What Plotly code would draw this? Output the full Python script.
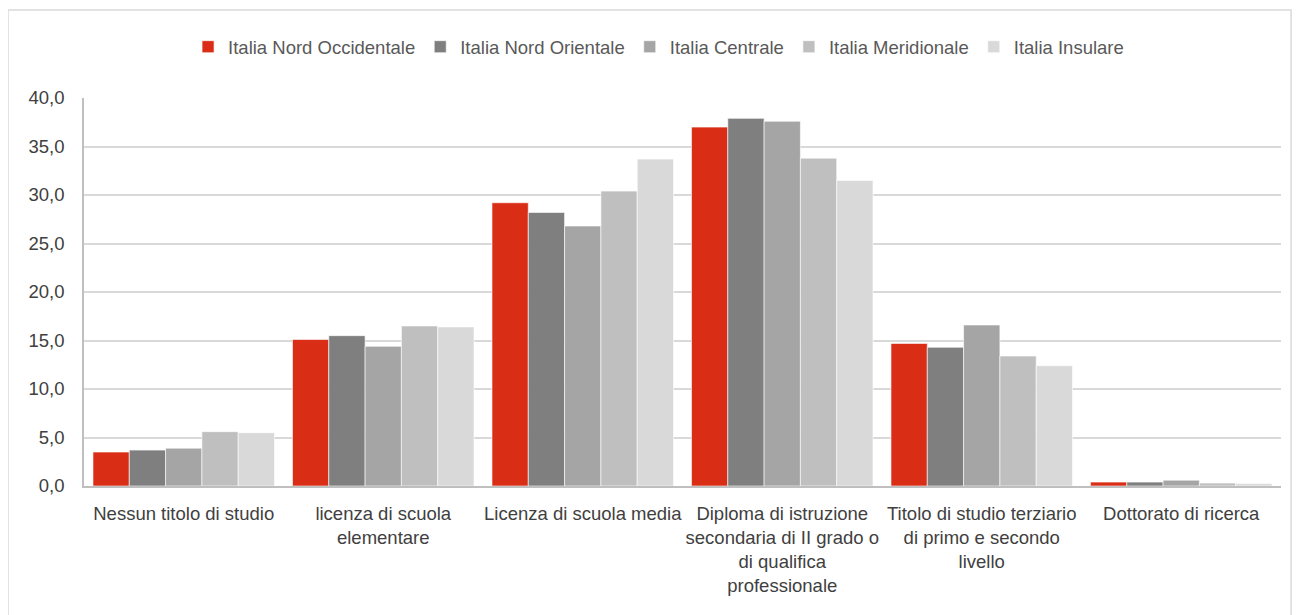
import plotly.graph_objects as go

categories = [
    "Nessun titolo di studio",
    "licenza di scuola<br>elementare",
    "Licenza di scuola media",
    "Diploma di istruzione<br>secondaria di II grado o<br>di qualifica<br>professionale",
    "Titolo di studio terziario<br>di primo e secondo<br>livello",
    "Dottorato di ricerca",
]

nord_occ = [3.5, 15.1, 29.2, 37.0, 14.7, 0.4]
nord_or = [3.7, 15.5, 28.2, 37.9, 14.3, 0.4]
centrale = [3.9, 14.4, 26.8, 37.6, 16.6, 0.6]
meridionale = [5.6, 16.5, 30.4, 33.8, 13.4, 0.3]
insulare = [5.5, 16.4, 33.7, 31.5, 12.4, 0.25]

series = [
    ("Italia Nord Occidentale", nord_occ, "#d92d16"),
    ("Italia Nord Orientale", nord_or, "#7f7f7f"),
    ("Italia Centrale", centrale, "#a5a5a5"),
    ("Italia Meridionale", meridionale, "#bfbfbf"),
    ("Italia Insulare", insulare, "#d9d9d9"),
]

font = "Liberation Sans Narrow, Arial Narrow, Liberation Sans, sans-serif"

fig = go.Figure()
for name, vals, color in series:
    fig.add_trace(go.Bar(
        name=name, x=categories, y=vals,
        marker=dict(color=color, line=dict(color="rgba(255,255,255,0.6)", width=1)),
    ))

fig.update_layout(
    width=1300, height=615,
    margin=dict(l=76, r=27, t=90, b=137),
    paper_bgcolor="white", plot_bgcolor="white",
    barmode="group", bargap=0.09, bargroupgap=0,
    font=dict(family=font, size=18.5, color="#404040"),
    separators=",.",
    legend=dict(
        orientation="h", x=0.48, xanchor="center", y=1.131, yanchor="middle",
        font=dict(size=18.5, color="#595959"), itemwidth=30, traceorder="normal",
    ),
    shapes=[dict(
        type="rect", xref="paper", yref="paper",
        x0=-0.0635, x1=1.0084, y0=-0.335, y1=1.2268,
        line=dict(color="#d9d9d9", width=1.5), layer="below",
    )],
)

fig.update_yaxes(
    range=[0, 40], dtick=5, tickformat=".1f",
    showgrid=True, gridcolor="#d9d9d9", gridwidth=1.5,
    showline=True, linecolor="#bfbfbf", linewidth=1.5,
    ticks="", tickfont=dict(size=18.5), zeroline=False,
    ticklabelstandoff=14,
)
fig.update_xaxes(
    showline=True, linecolor="#bfbfbf", linewidth=1.5,
    ticks="", tickfont=dict(size=18.5), mirror=False,
    ticklabelstandoff=10,
)

fig.write_html("out.html")
